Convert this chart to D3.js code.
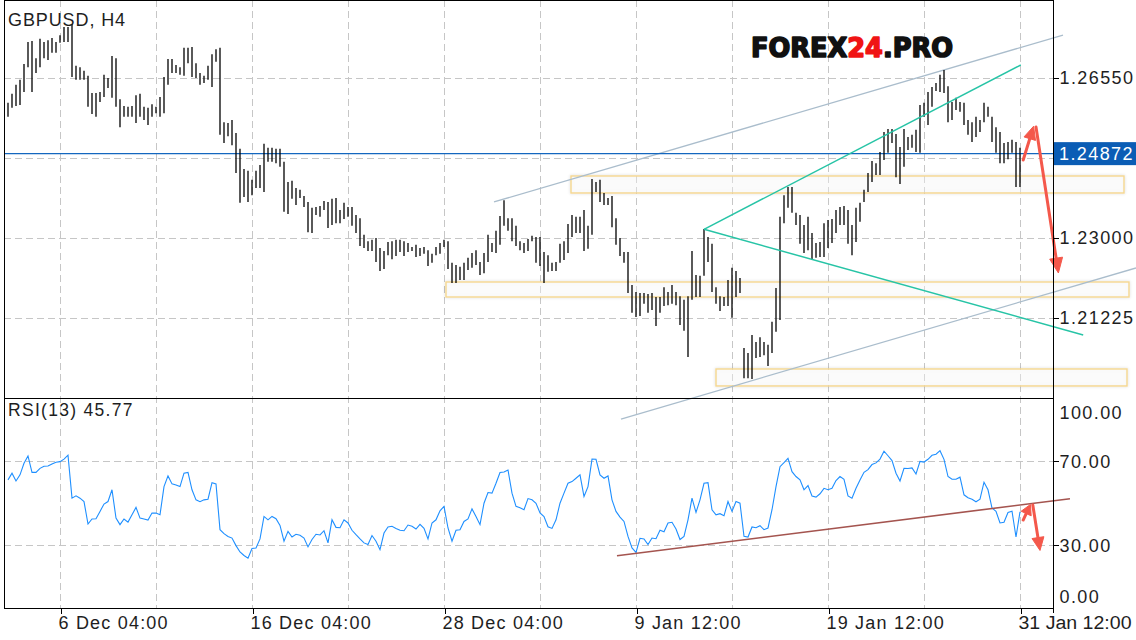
<!DOCTYPE html>
<html><head><meta charset="utf-8">
<script src="https://cdn.jsdelivr.net/npm/d3@7"></script>
<style>
html,body{margin:0;padding:0;background:#fff;}
svg{display:block;}
text{font-family:"Liberation Sans",Arial,sans-serif;fill:#1e1e1e;}
</style></head><body>
<svg id="chart" width="1136" height="640"></svg>
<script>
// ---------- DATA ----------
const symbolTitle = "GBPUSD, H4";
const rsiTitle = "RSI(13) 45.77";
const lastPrice = 1.24872;
const lastPriceLabel = "1.24872";

const highs = [
1.2600,1.2620,1.2640,1.2651,1.2686,1.2735,1.2737,1.2699,1.2742,1.2735,
1.2739,1.2744,1.2735,1.2750,1.2768,1.2768,1.2775,1.2682,1.2679,1.2671,
1.2660,1.2622,1.2622,1.2624,1.2662,1.2655,1.2704,1.2699,1.2608,1.2593,
1.2591,1.2593,1.2617,1.2620,1.2591,1.2589,1.2597,1.2591,1.2613,1.2657,
1.2697,1.2697,1.2684,1.2679,1.2722,1.2722,1.2724,1.2688,1.2666,1.2660,
1.2682,1.2708,1.2719,1.2722,1.2557,1.2555,1.2562,1.2533,1.2498,1.2453,
1.2449,1.2429,1.2449,1.2462,1.2509,1.2500,1.2500,1.2498,1.2498,1.2469,
1.2424,1.2427,1.2411,1.2407,1.2393,1.2380,1.2367,1.2369,1.2371,1.2382,
1.2380,1.2387,1.2389,1.2362,1.2378,1.2369,1.2369,1.2351,1.2344,1.2307,
1.2293,1.2296,1.2300,1.2278,1.2271,1.2291,1.2293,1.2296,1.2296,1.2293,
1.2289,1.2280,1.2285,1.2278,1.2280,1.2273,1.2265,1.2280,1.2289,1.2296,
1.2293,1.2245,1.2240,1.2236,1.2245,1.2256,1.2267,1.2273,1.2247,1.2267,
1.2307,1.2289,1.2316,1.2349,1.2384,1.2344,1.2344,1.2327,1.2293,1.2289,
1.2298,1.2305,1.2302,1.2302,1.2269,1.2262,1.2245,1.2247,1.2287,1.2293,
1.2331,1.2351,1.2347,1.2347,1.2362,1.2327,1.2431,1.2424,1.2429,1.2400,
1.2389,1.2393,1.2344,1.2300,1.2269,1.2269,1.2196,1.2180,1.2178,1.2178,
1.2176,1.2178,1.2169,1.2169,1.2191,1.2180,1.2196,1.2180,1.2171,1.2163,
1.2171,1.2271,1.2218,1.2216,1.2320,1.2302,1.2287,1.2191,1.2171,1.2169,
1.2207,1.2234,1.2227,1.2211,1.2056,1.2045,1.2085,1.2069,1.2080,1.2069,
1.2063,1.2114,1.2189,1.2347,1.2395,1.2413,1.2413,1.2356,1.2351,1.2329,
1.2347,1.2311,1.2289,1.2291,1.2333,1.2340,1.2342,1.2362,1.2369,1.2371,
1.2362,1.2329,1.2367,1.2378,1.2407,1.2444,1.2471,1.2466,1.2491,1.2535,
1.2542,1.2542,1.2531,1.2502,1.2542,1.2524,1.2529,1.2540,1.2595,1.2600,
1.2624,1.2635,1.2644,1.2662,1.2673,1.2637,1.2602,1.2611,1.2602,1.2600,
1.2562,1.2557,1.2569,1.2562,1.2600,1.2591,1.2569,1.2546,1.2535,1.2511,
1.2513,1.2518,1.2513,1.2500
];
const lows = [
1.2569,1.2589,1.2593,1.2595,1.2624,1.2679,1.2624,1.2666,1.2679,1.2699,
1.2695,1.2711,1.2711,1.2733,1.2735,1.2735,1.2657,1.2651,1.2651,1.2651,
1.2591,1.2575,1.2569,1.2602,1.2613,1.2633,1.2611,1.2591,1.2546,1.2569,
1.2569,1.2569,1.2555,1.2569,1.2562,1.2551,1.2569,1.2577,1.2569,1.2577,
1.2640,1.2666,1.2666,1.2662,1.2660,1.2688,1.2657,1.2655,1.2640,1.2644,
1.2651,1.2635,1.2691,1.2529,1.2511,1.2526,1.2506,1.2444,1.2378,1.2391,
1.2380,1.2395,1.2411,1.2411,1.2402,1.2469,1.2469,1.2466,1.2458,1.2358,
1.2353,1.2387,1.2373,1.2389,1.2369,1.2313,1.2311,1.2351,1.2347,1.2362,
1.2322,1.2329,1.2333,1.2333,1.2342,1.2347,1.2327,1.2311,1.2282,1.2278,
1.2271,1.2271,1.2247,1.2227,1.2231,1.2262,1.2253,1.2260,1.2269,1.2260,
1.2269,1.2271,1.2258,1.2260,1.2265,1.2238,1.2245,1.2262,1.2265,1.2280,
1.2231,1.2200,1.2200,1.2207,1.2207,1.2229,1.2234,1.2240,1.2218,1.2222,
1.2247,1.2269,1.2267,1.2285,1.2327,1.2316,1.2293,1.2282,1.2273,1.2267,
1.2271,1.2293,1.2245,1.2238,1.2200,1.2225,1.2227,1.2227,1.2245,1.2251,
1.2267,1.2302,1.2311,1.2311,1.2271,1.2276,1.2307,1.2402,1.2380,1.2373,
1.2373,1.2324,1.2285,1.2260,1.2245,1.2178,1.2134,1.2125,1.2127,1.2154,
1.2134,1.2140,1.2105,1.2134,1.2149,1.2151,1.2154,1.2151,1.2107,1.2094,
1.2036,1.2163,1.2169,1.2169,1.2216,1.2247,1.2180,1.2154,1.2138,1.2149,
1.2149,1.2123,1.2169,1.2178,1.1989,1.1989,1.1987,1.2034,1.2036,1.2040,
1.2016,1.2045,1.2092,1.2118,1.2333,1.2367,1.2356,1.2329,1.2287,1.2267,
1.2273,1.2251,1.2256,1.2258,1.2258,1.2278,1.2289,1.2311,1.2329,1.2329,
1.2287,1.2262,1.2291,1.2336,1.2380,1.2402,1.2424,1.2440,1.2440,1.2473,
1.2489,1.2511,1.2435,1.2420,1.2458,1.2495,1.2500,1.2491,1.2489,1.2569,
1.2551,1.2591,1.2626,1.2624,1.2622,1.2557,1.2562,1.2584,1.2580,1.2551,
1.2529,1.2513,1.2524,1.2535,1.2557,1.2569,1.2513,1.2489,1.2466,1.2466,
1.2475,1.2489,1.2413,1.2413
];
const rsiValues = [
61.0,64.2,60.5,63.4,68.9,72.4,64.6,64.6,66.5,67.5,
67.6,68.6,69.4,69.7,70.9,72.8,52.3,53.4,52.3,50.7,
40.0,42.4,42.5,46.0,49.5,50.7,56.3,42.8,39.7,42.4,
40.9,44.4,47.9,42.8,42.4,41.9,45.2,45.2,44.4,57.8,
62.9,59.1,58.6,57.8,64.2,64.6,56.3,51.5,50.6,51.5,
51.8,59.7,59.1,37.3,35.4,34.1,33.3,29.7,26.7,25.0,
23.7,28.3,28.6,32.9,43.6,42.0,43.6,42.5,39.3,31.8,
36.5,33.8,35.1,34.6,33.3,29.1,32.6,35.1,34.8,36.8,
31.0,42.0,38.4,38.2,42.0,40.5,37.0,34.9,32.9,31.0,
30.2,34.5,31.8,27.8,35.7,38.6,38.9,37.9,37.0,36.8,
39.5,38.9,37.6,39.8,37.9,32.9,40.5,42.0,46.3,48.4,
38.1,31.8,37.0,37.3,41.2,42.4,47.2,43.6,39.7,49.9,
55.0,54.7,59.4,64.5,64.8,65.7,54.7,48.4,47.7,46.8,
52.1,51.5,49.9,45.3,43.5,38.7,37.9,42.0,49.9,54.7,
59.4,60.2,61.8,63.4,53.1,57.8,70.9,70.8,63.4,61.8,
62.9,51.5,46.0,43.3,41.2,34.1,28.6,26.5,33.2,32.9,
30.2,33.3,33.0,37.0,36.3,40.5,40.8,37.6,32.6,34.1,
42.0,52.3,45.5,51.5,59.4,59.7,46.8,44.4,44.9,43.9,
50.7,46.0,50.7,49.9,34.1,33.8,38.6,38.2,39.2,37.3,
38.1,46.8,57.8,67.3,69.2,71.3,64.9,62.6,61.0,56.3,
58.3,53.3,52.8,54.4,57.0,56.3,57.0,60.7,62.6,61.3,
53.4,52.3,57.0,61.0,64.6,65.9,68.3,69.1,70.9,74.7,
72.5,70.2,64.2,60.5,66.5,66.4,66.7,63.8,69.8,69.5,
70.8,72.7,73.2,74.9,70.8,62.6,61.3,61.3,62.3,53.9,
52.5,51.8,50.6,51.8,59.9,56.3,47.6,46.0,40.5,40.8,
45.5,46.1,33.8,45.77
];

const xTickIndex = [13, 61, 109, 157, 205, 253];
const xTickLabels = ["6 Dec 04:00","16 Dec 04:00","28 Dec 04:00","9 Jan 12:00","19 Jan 12:00","31 Jan 12:00"];
const xGridIndex = [13,37,61,85,109,133,157,181,205,229,253];
const priceGrid = [1.26550, 1.24775, 1.23000, 1.21225];
const priceTickValues = [1.26550, 1.23000, 1.21225];
const rsiGrid = [70, 30];
const rsiTickValues = [100, 70, 30, 0];

// annotations (bar index / price or rsi units)
const zones = [
  {i0:140.75, i1:279.0,  p0:1.24376, p1:1.23999},
  {i0:109.5,  i1:280.25, p0:1.22024, p1:1.21691},
  {i0:177.0,  i1:279.75, p0:1.20094, p1:1.19717}
];
const channelLines = [
  {i0:121.5,  p0:1.23799, i1:263.75, p1:1.27504},
  {i0:153.25, p0:1.18984, i1:282.0,  p1:1.22335}
];
const wedgeLines = [
  {i0:174, p0:1.23193, i1:253.2, p1:1.26839},
  {i0:174, p0:1.23193, i1:268.8, p1:1.20848}
];
const rsiTrend = {i0:152.25, v0:24.9, i1:265.5, v1:52.05};
const priceArrows = [
  {i0:253.8, p0:1.24731, i1:256.4, p1:1.25480, head:13, hw:6},
  {i0:257.0, p0:1.25463, i1:262.6, p1:1.22224, head:15, hw:6.5}
];
const rsiArrows = [
  {i0:253.8, v0:41.9, i1:255.6, v1:49.3, head:10, hw:5.5},
  {i0:256.2, v0:49.0, i1:258.0, v1:27.4, head:13, hw:6}
];

// ---------- LAYOUT ----------
const L = 4, R = 1053, T = 0, MB = 398, RB = 608;
const svg = d3.select("#chart");
const x  = d3.scaleLinear().domain([0, 253]).range([8, 1020]);
const yP = d3.scaleLinear().domain([1.19450, 1.28281]).range([MB, T]);
const yR = d3.scaleLinear().domain([0, 100]).range([RB, MB]);

const defs = svg.append("defs");
const f = defs.append("filter").attr("id","zsh").attr("x","-5%").attr("y","-60%").attr("width","110%").attr("height","220%");
f.append("feDropShadow").attr("dx",0).attr("dy",0).attr("stdDeviation",1.8)
 .attr("flood-color","#000").attr("flood-opacity",0.16);

const gridColor = "#c6c6c6";
const grid = svg.append("g");
grid.selectAll("line.v").data(xGridIndex).join("line")
  .attr("x1", d => Math.round(x(d)) + 0.5).attr("x2", d => Math.round(x(d)) + 0.5)
  .attr("y1", T).attr("y2", RB)
  .attr("stroke", gridColor).attr("stroke-dasharray", "7,4");
grid.selectAll("line.hp").data(priceGrid).join("line")
  .attr("x1", L).attr("x2", R)
  .attr("y1", d => Math.round(yP(d)) + 0.5).attr("y2", d => Math.round(yP(d)) + 0.5)
  .attr("stroke", gridColor).attr("stroke-dasharray", "7,4");
svg.append("g").selectAll("line").data(rsiGrid).join("line")
  .attr("x1", L).attr("x2", R)
  .attr("y1", d => Math.round(yR(d)) + 0.5).attr("y2", d => Math.round(yR(d)) + 0.5)
  .attr("stroke", gridColor).attr("stroke-dasharray", "7,4");

// zones
svg.append("g").selectAll("rect").data(zones).join("rect")
  .attr("x", d => x(d.i0)).attr("width", d => x(d.i1) - x(d.i0))
  .attr("y", d => yP(d.p0)).attr("height", d => yP(d.p1) - yP(d.p0))
  .attr("fill", "rgba(255,255,255,0.35)")
  .attr("stroke", "#f6d790").attr("stroke-width", 1.4)
  .attr("filter", "url(#zsh)");

// channel lines
svg.append("g").selectAll("line").data(channelLines).join("line")
  .attr("x1", d => x(d.i0)).attr("y1", d => yP(d.p0))
  .attr("x2", d => x(d.i1)).attr("y2", d => yP(d.p1))
  .attr("stroke", "#aabdcc").attr("stroke-width", 1.3);

// last price line
svg.append("line").attr("x1", L).attr("x2", R)
  .attr("y1", yP(lastPrice)).attr("y2", yP(lastPrice))
  .attr("stroke", "#1467bf").attr("stroke-width", 1.3);

// OHLC bars (high-low)
svg.append("g").selectAll("line").data(highs).join("line")
  .attr("x1", (d,i) => x(i)).attr("x2", (d,i) => x(i))
  .attr("y1", d => yP(d)).attr("y2", (d,i) => yP(lows[i]))
  .attr("stroke", "#000").attr("stroke-width", 1.3);

// wedge lines
svg.append("g").selectAll("line").data(wedgeLines).join("line")
  .attr("x1", d => x(d.i0)).attr("y1", d => yP(d.p0))
  .attr("x2", d => x(d.i1)).attr("y2", d => yP(d.p1))
  .attr("stroke", "#27c4a6").attr("stroke-width", 1.5);

// RSI line
svg.append("path").datum(rsiValues)
  .attr("d", d3.line().x((d,i) => x(i)).y(d => yR(d)))
  .attr("fill", "none").attr("stroke", "#1e8fff").attr("stroke-width", 1.1);

// RSI trend line
svg.append("line")
  .attr("x1", x(rsiTrend.i0)).attr("y1", yR(rsiTrend.v0))
  .attr("x2", x(rsiTrend.i1)).attr("y2", yR(rsiTrend.v1))
  .attr("stroke", "#a4544f").attr("stroke-width", 1.6);

// arrows
const arrowColor = "#f4584b";
function drawArrow(g, x0, y0, x1, y1, head, hw) {
  const dx = x1 - x0, dy = y1 - y0, len = Math.hypot(dx, dy);
  const ux = dx / len, uy = dy / len, px = -uy, py = ux;
  const bx = x1 - ux * head, by = y1 - uy * head;
  g.append("line").attr("x1", x0).attr("y1", y0)
    .attr("x2", x1 - ux * head * 0.6).attr("y2", y1 - uy * head * 0.6)
    .attr("stroke", arrowColor).attr("stroke-width", 3).attr("stroke-linecap", "round");
  g.append("path")
    .attr("d", `M${x1},${y1}L${bx + px*hw},${by + py*hw}L${bx},${by}L${bx - px*hw},${by - py*hw}Z`)
    .attr("fill", arrowColor).attr("stroke", arrowColor).attr("stroke-width", 1).attr("stroke-linejoin", "round");
}
const ag = svg.append("g");
priceArrows.forEach(a => drawArrow(ag, x(a.i0), yP(a.p0), x(a.i1), yP(a.p1), a.head, a.hw));
rsiArrows.forEach(a => drawArrow(ag, x(a.i0), yR(a.v0), x(a.i1), yR(a.v1), a.head, a.hw));

// frame
const fr = svg.append("g").attr("stroke", "#000").attr("stroke-width", 1).attr("shape-rendering", "crispEdges");
fr.append("line").attr("x1", L).attr("x2", R).attr("y1", T + 0.5).attr("y2", T + 0.5);
fr.append("line").attr("x1", L + 0.5).attr("x2", L + 0.5).attr("y1", T).attr("y2", RB);
fr.append("line").attr("x1", L).attr("x2", R).attr("y1", MB + 0.5).attr("y2", MB + 0.5);
fr.append("line").attr("x1", L).attr("x2", R).attr("y1", RB + 0.5).attr("y2", RB + 0.5);
fr.append("line").attr("x1", R + 0.5).attr("x2", R + 0.5).attr("y1", T).attr("y2", RB + 5);

// axes
function styleAxis(g, ls) {
  g.select(".domain").remove();
  g.selectAll(".tick line").attr("stroke", "#000").attr("shape-rendering", "crispEdges");
  g.selectAll(".tick text").attr("fill", "#1e1e1e")
    .style("font-family", '"Liberation Sans", Arial, sans-serif')
    .style("font-size", "18px").style("letter-spacing", ls);
}
const pAxis = svg.append("g").attr("transform", `translate(${R + 0.5},0)`)
  .call(d3.axisRight(yP).tickValues(priceTickValues).tickFormat(d3.format(".5f")).tickSize(5).tickPadding(1));
styleAxis(pAxis, "1.4px");

const rAxis = svg.append("g").attr("transform", `translate(${R + 0.5},0)`)
  .call(d3.axisRight(yR).tickValues(rsiTickValues).tickFormat(d3.format(".2f")).tickSize(5).tickPadding(1));
styleAxis(rAxis, "1.4px");
rAxis.selectAll(".tick").filter(d => d === 100).select("line").remove();
rAxis.selectAll(".tick").filter(d => d === 0).select("line").remove();
rAxis.selectAll(".tick text").attr("dy", d => d === 100 ? "1.15em" : (d === 0 ? "-0.3em" : "0.35em"));

const xAxis = svg.append("g").attr("transform", `translate(0,${RB + 0.5})`)
  .call(d3.axisBottom(x).tickValues(xTickIndex).tickFormat((d, i) => xTickLabels[i]).tickSize(5).tickPadding(3));
styleAxis(xAxis, "1.2px");
xAxis.selectAll(".tick line").attr("transform", "translate(0.5,0)");
xAxis.selectAll(".tick text").attr("text-anchor", "start").attr("x", -2);
// keep the last label inside the picture
xAxis.selectAll(".tick text").filter((d, i) => i === xTickIndex.length - 1)
  .attr("textLength", 113).attr("lengthAdjust", "spacingAndGlyphs").style("letter-spacing", "0px");

// last price label
const lpY = yP(lastPrice);
svg.append("rect").attr("x", R + 1).attr("y", lpY - 11.5).attr("width", 1136 - R - 1).attr("height", 23)
  .attr("fill", "#0b5db5");
svg.append("text").attr("x", R + 6).attr("y", lpY).attr("dy", "0.36em")
  .style("font-size", "18px").style("letter-spacing", "1.4px").style("fill", "#fff")
  .text(lastPriceLabel);

// titles
svg.append("text").attr("x", 8).attr("y", 26)
  .style("font-size", "18px").style("letter-spacing", "0.9px").text(symbolTitle);
svg.append("text").attr("x", 8).attr("y", 416)
  .style("font-size", "17.5px").style("letter-spacing", "1.3px").text(rsiTitle);

// logo
const logo = svg.append("text").attr("x", 751).attr("y", 57)
  .attr("textLength", 202).attr("lengthAdjust", "spacingAndGlyphs")
  .style("font-family", '"DejaVu Sans", sans-serif').style("font-weight", "bold")
  .style("font-size", "26px").style("stroke-width", "1.6px").style("stroke-linejoin", "round");
logo.append("tspan").style("fill", "#111").style("stroke", "#111").text("FOREX");
logo.append("tspan").style("fill", "#f01414").style("stroke", "#f01414").text("24");
logo.append("tspan").style("fill", "#111").style("stroke", "#111").text(".PRO");
</script>
</body></html>
